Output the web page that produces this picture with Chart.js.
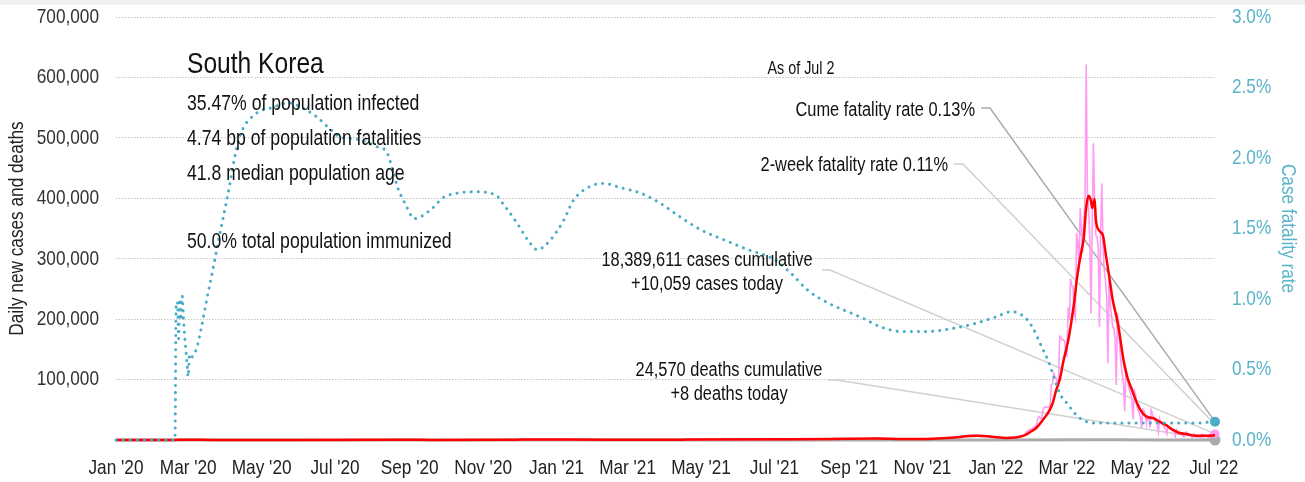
<!DOCTYPE html>
<html>
<head>
<meta charset="utf-8">
<title>South Korea COVID-19</title>
<script src="https://cdn.jsdelivr.net/npm/chart.js@4.4.1/dist/chart.umd.min.js"></script>
<style>
  html, body { margin: 0; padding: 0; background: #fff; }
  canvas { display: block; }
</style>
</head>
<body>
<canvas id="chart" width="1305" height="482"></canvas>
<script>
// ---- tick labels (x axis, every second month) ----
const tickDates = ['2020-01-01','2020-03-01','2020-05-01','2020-07-01','2020-09-01','2020-11-01',
                   '2021-01-01','2021-03-01','2021-05-01','2021-07-01','2021-09-01','2021-11-01',
                   '2022-01-01','2022-03-01','2022-05-01','2022-07-01'];
const tickLabels = ["Jan '20","Mar '20","May '20","Jul '20","Sep '20","Nov '20",
                    "Jan '21","Mar '21","May '21","Jul '21","Sep '21","Nov '21",
                    "Jan '22","Mar '22","May '22","Jul '22"];

// ---- daily new cases, 2020-2021 (sampled dates) ----
const earlyCaseDates = ['2020-01-01','2020-01-20','2020-02-01','2020-02-15','2020-02-20','2020-02-25','2020-02-29',
  '2020-03-03','2020-03-08','2020-03-15','2020-03-22','2020-04-01','2020-04-15','2020-05-01','2020-05-15',
  '2020-06-01','2020-06-15','2020-07-01','2020-07-15','2020-08-01','2020-08-15','2020-08-27','2020-09-10',
  '2020-09-25','2020-10-10','2020-10-25','2020-11-10','2020-11-25','2020-12-10','2020-12-25',
  '2021-01-05','2021-01-20','2021-02-05','2021-02-17','2021-03-01','2021-03-15','2021-04-01','2021-04-15',
  '2021-05-01','2021-05-15','2021-06-01','2021-06-15','2021-07-01','2021-07-15','2021-08-01','2021-08-15',
  '2021-09-01','2021-09-15','2021-09-25','2021-10-10','2021-10-25','2021-11-05','2021-11-15','2021-11-24',
  '2021-12-01','2021-12-08','2021-12-15','2021-12-22','2021-12-29'];
const earlyCases = [0,1,1,0,34,144,909,
  600,248,76,98,101,27,9,19,
  35,37,51,39,31,166,441,176,
  61,58,61,100,382,682,1241,
  715,404,370,621,355,382,551,698,
  606,681,459,545,762,1600,1442,1817,
  2025,2079,3271,1594,1265,2343,2418,4115,
  5123,7174,7850,7455,5408];

// ---- daily new cases, 2022 (one value per day, month by month) ----
const casesJan22 = [4415,3832,3126,3024,4443,4126,3713,3511,3376,3005,
  3096,4387,4541,4167,4194,4129,3857,4070,5804,6601,
  6767,7009,7630,7513,8571,13012,14518,16096,17542,17528,18342];
const casesFeb22 = [20270,20908,22907,27443,36362,38691,35286,36719,49567,54122,
  53926,54941,53925,54619,57177,90443,93135,109831,104829,102211,
  95362,99573,171452,170016,165890,166209,163565,139626];
const casesMar22 = [138993,219241,198803,266853,254327,254327,210716,202721,342446,327549,
  282987,383665,350190,309790,362338,400741,621328,407017,381454,334708,
  209169,353980,490881,395598,339514,335580,318130,187213,347554,424641,320743];
const casesApr22 = [280273,264171,234301,127190,266135,224820,205333,186152,185566,164481,
  90928,210755,195419,148443,125846,107916,93001,47743,118504,111319,
  90867,81058,75449,64725,34370,81582,76787,57464,50568,44689];
const casesMay22 = [37771,20085,51131,49064,42296,26714,40064,38376,20601,49933,
  43925,35906,32451,29581,25434,13296,35117,29272,26714,23956,
  20634,17191,9975,23518,20325,18816,16584,15797,12542,6141,17191];
const casesJun22 = [13358,9898,12046,10605,9832,5022,6171,13358,11976,9315,
  8440,7382,3828,9434,9911,8220,7992,7198,6068,3532,
  9310,9305,7496,7222,6240,4421,3423,9896,10463,9595];
const casesJul22 = [10715,10059];

// ---- 7-day average of new cases ----
const avgDates = ['2020-01-01','2020-02-15','2020-03-01','2020-03-10','2020-03-20','2020-04-15','2020-06-01',
  '2020-08-20','2020-08-30','2020-09-20','2020-11-20','2020-12-25','2021-01-10','2021-02-15','2021-04-20',
  '2021-07-15','2021-08-15','2021-09-25','2021-10-15','2021-11-10','2021-11-25','2021-12-10','2021-12-17',
  '2021-12-25','2022-01-01','2022-01-10','2022-01-17','2022-01-22','2022-01-26','2022-01-30','2022-02-03',
  '2022-02-07','2022-02-10','2022-02-13','2022-02-17','2022-02-20','2022-02-23','2022-02-26','2022-03-01',
  '2022-03-03','2022-03-05','2022-03-07','2022-03-09','2022-03-11','2022-03-13','2022-03-15','2022-03-17',
  '2022-03-19','2022-03-21','2022-03-22','2022-03-24','2022-03-25','2022-03-28','2022-03-31','2022-04-02',
  '2022-04-05','2022-04-08','2022-04-11','2022-04-13','2022-04-17','2022-04-20','2022-04-24','2022-04-28',
  '2022-05-01','2022-05-04','2022-05-07','2022-05-12','2022-05-17','2022-05-22','2022-05-27','2022-06-02',
  '2022-06-09','2022-06-16','2022-06-23','2022-06-30','2022-07-02'];
const avgCases = [0,0,600,350,100,30,30,
  250,350,100,300,1000,700,400,650,
  1400,1800,2500,1600,2200,3800,6500,7100,
  6200,4600,3500,4000,6000,9000,14000,19000,
  28000,36000,44000,60000,82000,100000,130000,155000,
  175000,200000,228000,262000,290000,312000,335000,385000,
  404000,395000,384000,399000,365000,346000,338000,311000,
  272000,232000,205000,185000,132000,105000,83000,62000,
  50000,42000,38000,36000,30000,25000,18000,12000,
  9500,7000,7000,7500,8000];

// ---- daily deaths ----
const deathDates = ['2020-01-01','2020-03-01','2020-12-25','2021-01-05','2021-12-20','2022-03-20',
  '2022-04-10','2022-05-15','2022-07-02'];
const deaths = [0,3,20,25,80,380,250,40,8];

// ---- case fatality rate (%) ----
const cfrDates = ['2020-01-01','2020-02-19','2020-02-20','2020-02-21','2020-02-22','2020-02-23','2020-02-24',
  '2020-02-25','2020-02-26','2020-02-27','2020-02-28','2020-02-29','2020-03-01','2020-03-02','2020-03-03',
  '2020-03-05','2020-03-08','2020-03-12','2020-03-16','2020-03-21','2020-03-27','2020-04-02','2020-04-12',
  '2020-04-27','2020-05-07','2020-05-24','2020-06-05','2020-06-16','2020-06-25','2020-07-05','2020-07-21',
  '2020-08-05','2020-08-13','2020-08-18','2020-08-22','2020-08-28','2020-09-05','2020-09-18','2020-09-29',
  '2020-10-10','2020-10-24','2020-11-11','2020-11-18','2020-11-29','2020-12-08','2020-12-16','2020-12-27',
  '2021-01-07','2021-01-15','2021-01-27','2021-02-09','2021-02-23','2021-03-12','2021-03-28','2021-04-14',
  '2021-05-01','2021-05-20','2021-06-09','2021-07-01','2021-07-15','2021-07-29','2021-08-15','2021-09-11',
  '2021-09-28','2021-10-14','2021-11-06','2021-11-25','2021-12-12','2021-12-31','2022-01-14','2022-01-25',
  '2022-02-01','2022-02-08','2022-02-14','2022-02-18','2022-02-23','2022-03-01','2022-03-11','2022-03-24',
  '2022-04-15','2022-05-15','2022-06-15','2022-07-02'];
const cfrPct = [0,0,0.96,0.98,0.72,1.0,0.85,
  1.02,0.87,0.74,0.64,0.54,0.45,0.60,0.58,
  0.60,0.65,0.80,0.98,1.19,1.45,1.70,2.13,
  2.32,2.35,2.39,2.35,2.29,2.22,2.15,2.13,
  2.08,2.04,1.91,1.79,1.68,1.57,1.63,1.72,
  1.75,1.76,1.74,1.67,1.54,1.42,1.35,1.42,
  1.56,1.70,1.79,1.82,1.79,1.75,1.68,1.58,
  1.49,1.42,1.35,1.28,1.18,1.06,0.97,0.87,
  0.80,0.77,0.77,0.79,0.82,0.87,0.91,0.87,
  0.79,0.66,0.55,0.45,0.33,0.26,0.16,0.12,
  0.12,0.12,0.12,0.13];

// ---- headline figures ----
const asOf = 'As of Jul 2';
const cumeFatality = 0.13;
const twoWeekFatality = 0.11;
const casesCumulative = 18389611;
const casesToday = 10059;
const deathsCumulative = 24570;
const deathsToday = 8;
const statLines = ['35.47% of population infected', '4.74 bp of population fatalities',
                   '41.8 median population age', '50.0% total population immunized'];

// ---- helpers ----
const DAY0 = Date.UTC(2020, 0, 1);
function dayOf(s) {
  const [y, m, d] = s.split('-').map(Number);
  return (Date.UTC(y, m - 1, d) - DAY0) / 86400000;
}
function pairs(dates, values) {
  return dates.map((d, i) => ({ x: dayOf(d), y: values[i] }));
}
function monthly(startDate, values) {
  const s = dayOf(startDate);
  return values.map((v, i) => ({ x: s + i, y: v }));
}
const lastDay = dayOf('2022-07-02');

const casePoints = pairs(earlyCaseDates, earlyCases)
  .concat(monthly('2022-01-01', casesJan22))
  .concat(monthly('2022-02-01', casesFeb22))
  .concat(monthly('2022-03-01', casesMar22))
  .concat(monthly('2022-04-01', casesApr22))
  .concat(monthly('2022-05-01', casesMay22))
  .concat(monthly('2022-06-01', casesJun22))
  .concat(monthly('2022-07-01', casesJul22));

const FONT = "'Liberation Sans', Arial, sans-serif";
const CYAN = '#4aadc7';
const CYAN_TEXT = '#5ab4c9';
const SQUEEZE = 0.82;   // condensed look for every label on the canvas

// All canvas text is set in a narrow style: each string is squeezed
// horizontally about its own anchor point (works for any alignment/rotation).
const canvas = document.getElementById('chart');
const ctx2d = canvas.getContext('2d');
const plainFillText = ctx2d.fillText.bind(ctx2d);
ctx2d.fillText = function (text, x, y) {
  this.save();
  this.translate(x, y);
  this.scale(SQUEEZE, 1);
  plainFillText(text, 0, 0);
  this.restore();
};

function endDot(radius) {
  return (ctx) => (ctx.dataIndex === ctx.dataset.data.length - 1 ? radius : 0);
}

function label(c, text, x, y, size, align) {
  c.font = size + 'px ' + FONT;
  c.textAlign = align;
  c.textBaseline = 'alphabetic';
  c.fillText(text, x, y);
}

// vertical axes: fixed width, and no extra head/foot room around the plot
function fixedWidth(w) {
  return (scale) => {
    scale.width = w;
    scale.paddingTop = 0;
    scale.paddingBottom = 0;
  };
}

// Leader lines, headline text and the thin band above the chart
const notes = {
  id: 'notes',
  beforeDraw(chart) {
    const c = chart.ctx;
    c.save();
    c.fillStyle = '#f0f0f0';
    c.fillRect(0, 0, chart.width, 5);
    c.restore();
  },
  beforeDatasetsDraw(chart) {
    const c = chart.ctx, xs = chart.scales.x, ys = chart.scales.y, yr = chart.scales.y1;
    const ex = xs.getPixelForValue(lastDay);
    const leaders = [
      { pts: [[981, 108], [990, 108]], end: yr.getPixelForValue(cumeFatality), color: '#aaaaaa' },
      { pts: [[954, 164], [963, 164]], end: yr.getPixelForValue(twoWeekFatality), color: '#d0d0d0' },
      { pts: [[822, 270], [830, 270]], end: ys.getPixelForValue(casesToday), color: '#d0d0d0' },
      { pts: [[828, 380], [837, 380]], end: ys.getPixelForValue(deathsToday), color: '#d0d0d0' }
    ];
    c.save();
    c.lineWidth = 1.5;
    leaders.forEach(l => {
      c.strokeStyle = l.color;
      c.beginPath();
      c.moveTo(l.pts[0][0], l.pts[0][1]);
      c.lineTo(l.pts[1][0], l.pts[1][1]);
      c.lineTo(ex, l.end);
      c.stroke();
    });
    c.restore();
  },
  afterDraw(chart) {
    const c = chart.ctx;
    c.save();
    c.fillStyle = '#111';
    label(c, 'South Korea', 187, 73, 30, 'left');
    label(c, statLines[0], 187, 110, 21.5, 'left');
    label(c, statLines[1], 187, 145, 21.5, 'left');
    label(c, statLines[2], 187, 180, 21.5, 'left');
    label(c, statLines[3], 187, 248, 21.5, 'left');

    label(c, asOf, 801, 74, 17.5, 'center');

    label(c, 'Cume fatality rate ' + cumeFatality.toFixed(2) + '%', 975, 116, 20, 'right');
    label(c, '2-week fatality rate ' + twoWeekFatality.toFixed(2) + '%', 948, 171, 20, 'right');

    label(c, casesCumulative.toLocaleString('en-US') + ' cases cumulative', 707, 266, 20, 'center');
    label(c, '+' + casesToday.toLocaleString('en-US') + ' cases today', 707, 290, 20, 'center');
    label(c, deathsCumulative.toLocaleString('en-US') + ' deaths cumulative', 729, 376, 20, 'center');
    label(c, '+' + deathsToday + ' deaths today', 729, 400, 20, 'center');
    c.restore();
  }
};

Chart.defaults.font.family = FONT;

new Chart(canvas, {
  type: 'line',
  data: {
    datasets: [
      {
        label: 'Case fatality rate',
        data: pairs(cfrDates, cfrPct),
        yAxisID: 'y1',
        borderColor: CYAN,
        backgroundColor: CYAN,
        borderWidth: 3,
        borderDash: [0.1, 7],
        borderCapStyle: 'round',
        cubicInterpolationMode: 'monotone',
        pointRadius: endDot(5),
        pointBorderWidth: 0,
        pointBackgroundColor: CYAN,
        clip: false,
        order: 0
      },
      {
        label: '7-day average cases',
        data: pairs(avgDates, avgCases),
        yAxisID: 'y',
        borderColor: '#ff0000',
        borderWidth: 2.5,
        cubicInterpolationMode: 'monotone',
        pointRadius: 0,
        clip: false,
        order: 1
      },
      {
        label: 'Daily new cases',
        data: casePoints,
        yAxisID: 'y',
        borderColor: '#ff9cf2',
        backgroundColor: '#ff9cf2',
        borderWidth: 1.6,
        tension: 0,
        pointRadius: endDot(4.5),
        pointBorderWidth: 0,
        pointBackgroundColor: '#ff9cf2',
        clip: false,
        order: 2
      },
      {
        label: 'Daily deaths',
        data: pairs(deathDates, deaths),
        yAxisID: 'y',
        borderColor: '#aaaaaa',
        backgroundColor: '#aaaaaa',
        borderWidth: 3,
        pointRadius: endDot(5.5),
        pointBorderWidth: 0,
        pointBackgroundColor: '#aaaaaa',
        clip: false,
        order: 3
      }
    ]
  },
  options: {
    responsive: false,
    animation: false,
    events: [],
    layout: { padding: { top: 17, left: 0, right: 0, bottom: 0 } },
    plugins: { legend: { display: false }, tooltip: { enabled: false } },
    scales: {
      x: {
        type: 'linear',
        min: 0,
        max: lastDay,
        grid: { display: false, drawTicks: false },
        border: { display: false },
        afterBuildTicks(scale) { scale.ticks = tickDates.map(d => ({ value: dayOf(d) })); },
        afterFit(scale) { scale.height = 42; },
        ticks: {
          autoSkip: false,
          maxRotation: 0,
          padding: 16,
          color: '#222',
          font: { size: 21 },
          callback: (v, i) => tickLabels[i]
        }
      },
      y: {
        position: 'left',
        min: 0,
        max: 700000,
        afterFit: fixedWidth(116),
        grid: { color: '#c4c4c4', lineWidth: 1, drawTicks: false },
        border: { display: false, dash: [1.5, 1.5] },
        ticks: {
          stepSize: 100000,
          padding: 17,
          color: '#333',
          font: { size: 21 },
          callback: v => (v === 0 ? '' : v.toLocaleString('en-US'))
        },
        title: {
          display: true,
          text: 'Daily new cases and deaths',
          color: '#222',
          font: { size: 21 },
          padding: { top: 5, bottom: 0 }
        }
      },
      y1: {
        position: 'right',
        min: 0,
        max: 3,
        afterFit: fixedWidth(90),
        grid: { display: false, drawTicks: false },
        border: { display: false },
        ticks: {
          stepSize: 0.5,
          padding: 17,
          color: CYAN_TEXT,
          font: { size: 21 },
          callback: v => v.toFixed(1) + '%'
        },
        title: {
          display: true,
          text: 'Case fatality rate',
          color: CYAN_TEXT,
          font: { size: 21 },
          padding: { top: 5, bottom: 0 }
        }
      }
    }
  },
  plugins: [notes]
});
</script>
</body>
</html>
